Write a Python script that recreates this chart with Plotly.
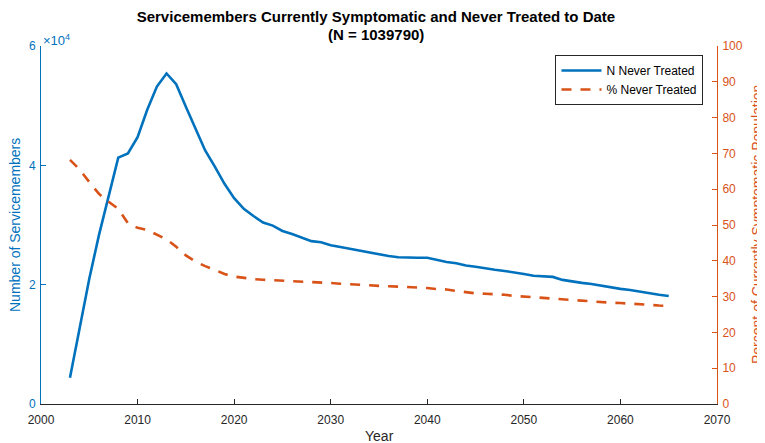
import plotly.graph_objects as go

years = list(range(2003, 2066))

n_never_treated = [
    4400, 12500, 21000, 28300, 35000, 41300, 42000, 44700, 49300, 53200,
    55400, 53600, 49800, 46000, 42500, 39800, 36900, 34500, 32700, 31500,
    30400, 29900, 29000, 28500, 27900, 27300, 27100, 26600, 26300, 26000,
    25600, 25400, 25100, 24800, 24600, 24500, 24500, 24500, 24100, 23800,
    23600, 23200, 23000, 22700, 22500, 22300, 22100, 21800, 21500, 21400,
    21300, 20800, 20500, 20300, 20100, 19800, 19500, 19300, 19100, 18800,
    18600, 18300, 18100,
]

pct_never_treated = [
    68.2, 65.5, 62.0, 58.7, 56.5, 54.5, 50.5, 49.2, 48.6, 47.4,
    46.0, 43.9, 41.5, 39.8, 38.5, 37.5, 36.3, 35.6, 35.2, 34.9,
    34.7, 34.6, 34.5, 34.4, 34.3, 34.1, 34.1, 33.8, 33.6, 33.4,
    33.2, 33.1, 33.0, 32.9, 32.8, 32.8, 32.7, 32.4, 32.1, 32.0,
    31.6, 31.2, 30.9, 30.8, 30.7, 30.5, 30.2, 30.0, 29.8, 29.7,
    29.3, 29.2, 29.1, 28.9, 28.5, 28.4, 28.3, 28.2, 28.1, 28.0,
    27.7, 27.5, 27.4,
]

x_ticks = list(range(2000, 2071, 10))
left_tickvals = [0, 20000, 40000, 60000]
left_ticktext = ["0", "2", "4", "6"]
right_tickvals = list(range(0, 101, 10))

BLUE = "#0072BD"
ORANGE = "#D95319"
GRAY = "#262626"
FONT = "Liberation Sans, Arial, Helvetica, sans-serif"

# page body has an 8px margin; the figure is sized to fill the rest of the window
W, H = 757, 435

fig = go.Figure()
fig.add_trace(go.Scatter(
    x=years, y=n_never_treated, mode="lines", name="N Never Treated",
    line=dict(color=BLUE, width=2.6), yaxis="y",
))
fig.add_trace(go.Scatter(
    x=years, y=pct_never_treated, mode="lines", name="% Never Treated",
    line=dict(color=ORANGE, width=2.6, dash="10px,9px"), yaxis="y2",
))

fig.update_layout(
    width=W, height=H,
    margin=dict(l=33, r=48, t=38, b=39, autoexpand=False),
    paper_bgcolor="white", plot_bgcolor="white",
    font=dict(family=FONT, size=12, color=GRAY),
    title=dict(
        text="<b>Servicemembers Currently Symptomatic and Never Treated to Date</b>",
        x=0.4955, xanchor="center", xref="paper",
        y=1 - 9 / H, yanchor="middle", yref="container",
        font=dict(size=15, color="black", family=FONT),
    ),
    xaxis=dict(
        range=[2000, 2070], tickvals=x_ticks, ticks="inside", ticklen=5,
        showline=True, linecolor=GRAY, linewidth=1, tickcolor=GRAY,
        showgrid=False, zeroline=False, automargin=False,
        tickfont=dict(size=12, color=GRAY), ticklabelstandoff=5,
    ),
    yaxis=dict(
        range=[0, 60000], tickvals=left_tickvals, ticktext=left_ticktext,
        ticks="inside", ticklen=5, showline=True, linecolor=BLUE, tickcolor=BLUE,
        linewidth=1, showgrid=False, zeroline=False, automargin=False,
        tickfont=dict(size=12, color=BLUE), ticklabelstandoff=2,
    ),
    yaxis2=dict(
        range=[0, 100], tickvals=right_tickvals, overlaying="y", side="right",
        ticks="inside", ticklen=5, showline=True, linecolor=ORANGE, tickcolor=ORANGE,
        linewidth=1, showgrid=False, zeroline=False, automargin=False,
        tickfont=dict(size=12, color=ORANGE), ticklabelstandoff=2,
    ),
    legend=dict(
        x=0.98, y=0.975, xanchor="right", yanchor="top",
        bgcolor="white", bordercolor=GRAY, borderwidth=1,
        font=dict(size=12, color="black"),
        tracegroupgap=0, itemwidth=40,
    ),
    showlegend=True,
)

fig.add_annotation(
    text="<b>(N = 1039790)</b>", xref="paper", yref="paper", x=0.4955, y=1,
    xanchor="center", yanchor="middle", showarrow=False, yshift=12,
    font=dict(size=15, color="black", family=FONT),
)
fig.add_annotation(
    text="\u00d710<sup>4</sup>", xref="paper", yref="paper", x=0, y=1,
    xanchor="left", yanchor="bottom", showarrow=False, xshift=0, yshift=-4,
    font=dict(size=13, color=BLUE, family=FONT),
)
fig.add_annotation(
    text="Number of Servicemembers", xref="paper", yref="paper", x=0, y=0.5,
    xanchor="center", yanchor="middle", textangle=-90, showarrow=False, xshift=-26,
    font=dict(size=14, color=BLUE, family=FONT),
)
fig.add_annotation(
    text="Percent of Currently Symptomatic Population", xref="paper", yref="paper",
    x=1, y=0.5, xanchor="center", yanchor="middle", textangle=-90, showarrow=False,
    xshift=40, font=dict(size=14, color=ORANGE, family=FONT),
)
fig.add_annotation(
    text="Year", xref="paper", yref="paper", x=0.5, y=0,
    xanchor="center", yanchor="middle", showarrow=False, yshift=-32,
    font=dict(size=14, color=GRAY, family=FONT),
)

fig.write_html("out.html")
